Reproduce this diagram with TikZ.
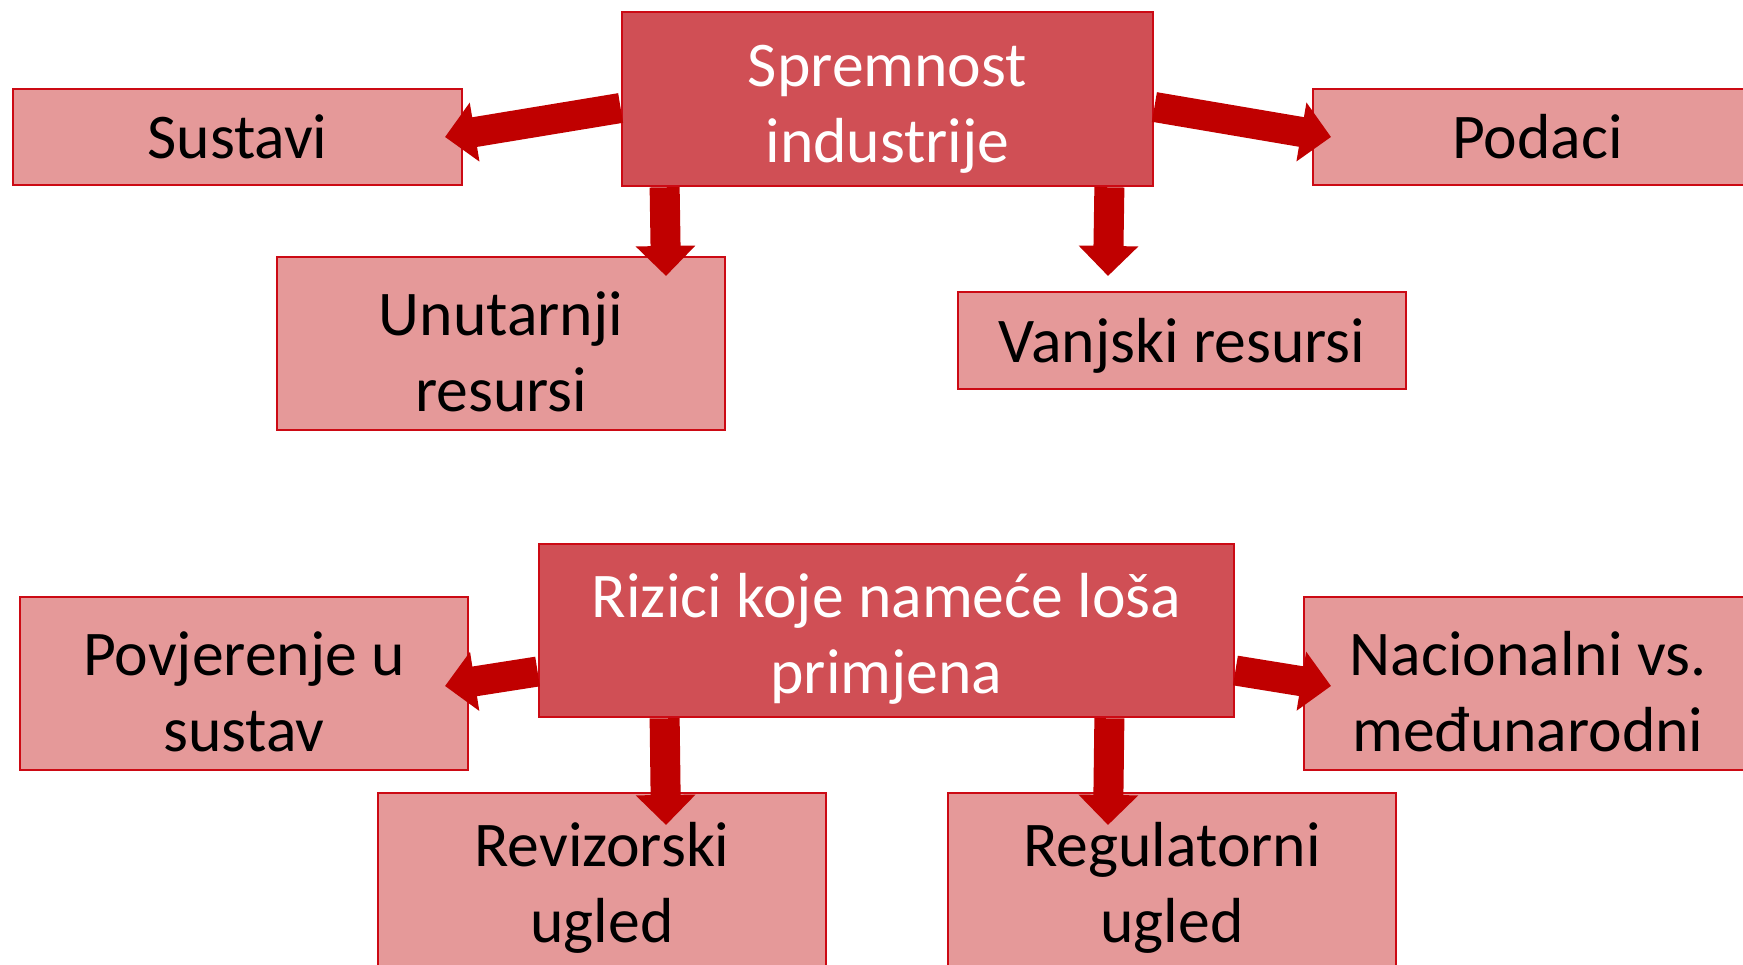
\documentclass[tikz,border=0pt]{standalone}
\usepackage{fontspec}
\setmainfont{Carlito}
\usepackage{tikz}
\usetikzlibrary{arrows.meta}
\usetikzlibrary{positioning}

\definecolor{darkfill}{HTML}{D04F55}
\definecolor{lightfill}{HTML}{E59999}
\definecolor{edgered}{HTML}{CC0A14}
\definecolor{arrowred}{HTML}{C00000}
% pushes the text lines of a box a bit down
\newcommand{\topgap}[1][0.61cm]{\rule{0pt}{#1}}

\begin{document}
\begin{tikzpicture}[x=0.01cm, y=-0.01cm,
    mainbox/.style={rectangle, draw=edgered, line width=0.025cm, fill=darkfill,
      text=white, inner sep=0pt, align=center, minimum height=1.73cm,
      font=\fontsize{18.1}{21.6}\selectfont},
    subbox/.style={rectangle, draw=edgered, line width=0.025cm, fill=lightfill,
      text=black, inner sep=0pt, align=center, minimum width=4.48cm,
      minimum height=1.73cm, font=\fontsize{18.1}{21.6}\selectfont},
    blockarrow/.style={draw=arrowred, line width=0.30cm,
      -{Triangle[width=0.58cm, length=0.30cm]}}]
        \useasboundingbox (0, 0) rectangle (1743, 965);
        \clip (0, 0) rectangle (1743, 965);
        % top group
        \node [mainbox, minimum width=5.31cm, minimum height=1.74cm] (spr) at (887.5, 99) {\topgap Spremnost\\industrije};
        \node [subbox, minimum width=4.49cm, minimum height=0.96cm] (sus) at (237.5, 137) {Sustavi};
        \node [subbox, minimum width=4.49cm, minimum height=0.96cm] (pod) at (1537.5, 137) {Podaci};
        \node [subbox] (unu) at (501, 343.5) {\topgap Unutarnji\\resursi};
        \node [subbox, minimum height=0.97cm] (van) at (1182, 340.5) {\topgap[0.55cm]Vanjski resursi};
        \coordinate (tsus) at (445, 137);
        \coordinate (tpod) at (1331, 137);
        \coordinate (tunu) at (666, 276);
        \coordinate (tvan) at (1108, 276);
        \draw [blockarrow] ([yshift=-0.09cm]spr.west)--(tsus);
        \draw [blockarrow] ([yshift=-0.08cm]spr.east)--(tpod);
        \draw [blockarrow] ([xshift=0.44cm]spr.south west)--(tunu);
        \draw [blockarrow] ([xshift=-0.45cm]spr.south east)--(tvan);
        % bottom group
        \node [mainbox, minimum width=6.95cm] (riz) at (886.5, 630.5) {\topgap Rizici koje nameće loša\\primjena};
        \node [subbox] (pov) at (244, 683.5) {\topgap Povjerenje u\\sustav};
        \node [subbox] (nac) at (1528, 683.5) {\topgap Nacionalni vs.\\međunarodni};
        \node [subbox] (rev) at (602, 879.5) {\topgap Revizorski\\ugled};
        \node [subbox] (reg) at (1172, 879.5) {\topgap Regulatorni\\ugled};
        \coordinate (tpov) at (445, 686);
        \coordinate (tnac) at (1331, 686);
        \coordinate (trev) at (666, 825);
        \coordinate (treg) at (1108, 825);
        \draw [blockarrow] ([yshift=-0.41cm]riz.west)--(tpov);
        \draw [blockarrow] ([yshift=-0.40cm]riz.east)--(tnac);
        \draw [blockarrow] ([xshift=1.27cm]riz.south west)--(trev);
        \draw [blockarrow] ([xshift=-1.26cm]riz.south east)--(treg);
\end{tikzpicture}
\end{document}
